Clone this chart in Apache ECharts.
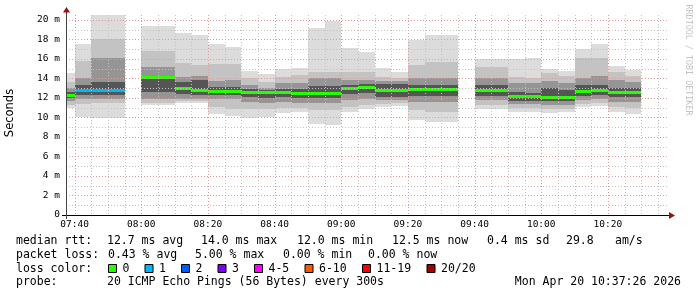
<!DOCTYPE html>
<html><head><meta charset="utf-8">
<script src="https://cdn.jsdelivr.net/npm/echarts@6/dist/echarts.min.js"></script>
<style>html,body{margin:0;padding:0;background:#fff}#c{width:697px;height:297px}</style>
</head><body><div id="c"></div>
<script>
// ---- data (5-minute steps, start time of each step; missing steps omitted) ----
const stepStart = ['07:35','07:40','07:45','07:50','08:00','08:05','08:10','08:15','08:20','08:25',
  '08:30','08:35','08:40','08:45','08:50','08:55','09:00','09:05','09:10','09:15',
  '09:20','09:25','09:30','09:40','09:45','09:50','09:55','10:00','10:05','10:10',
  '10:15','10:20','10:25'];
const rttMax    = [14.6,17.5,20.5,20.5,19.4,19.4,18.7,18.5,17.5,17.2, 14.8,14.5,15.0,15.1,19.2,19.85,17.1,16.7,15.1,14.7, 17.9,18.5,18.5,16.0,16.0,16.0,16.1,15.0,14.75,17.05, 17.5,15.3,14.85];
const rttHi2    = [13.6,15.8,18.0,18.0,16.8,16.8,15.6,15.4,15.5,15.5, 14.05,13.6,14.15,14.4,14.7,14.7,14.7,14.7,14.15,14.05, 15.35,15.7,15.7,15.2,15.2,14.15,14.0,14.6,14.3,16.1, 16.1,14.7,14.3];
const rttHi3    = [13.0,14.1,16.1,16.1,15.2,15.2,14.2,14.3,13.7,13.8, 13.3,13.0,13.5,13.5,14.0,14.0,13.8,13.8,13.7,13.7, 14.0,14.0,14.0,14.0,14.0,13.5,13.5,13.7,13.5,14.0, 14.3,13.8,13.6];
const rttHi4    = [12.6,13.3,13.6,13.6,14.3,14.3,13.6,13.8,13.1,13.1, 12.9,12.8,12.9,12.9,13.2,13.2,13.3,13.4,13.4,13.4, 13.3,13.3,13.3,13.3,13.3,12.6,12.5,13.0,12.8,13.3, 13.3,13.0,13.0];
const rttMedian = [12.3,12.75,12.8,12.8,14.05,14.05,13.0,12.8,12.7,12.7, 12.55,12.55,12.55,12.5,12.45,12.45,13.0,13.1,12.8,12.75, 12.9,12.9,12.9,12.75,12.75,12.2,12.15,12.0,12.0,12.7, 12.8,12.55,12.55];
const rttLo4    = [12.0,12.3,12.3,12.3,12.6,12.6,12.45,12.3,12.3,12.3, 12.1,11.95,12.1,12.0,12.0,12.0,12.4,12.5,12.1,12.1, 12.2,12.2,12.2,12.2,12.2,11.7,11.7,11.7,11.7,12.2, 12.3,12.1,12.1];
const rttLo3    = [11.7,11.85,11.9,11.9,11.9,11.9,11.9,11.9,11.9,11.9, 11.6,11.5,11.6,11.5,11.5,11.5,11.8,11.9,11.8,11.8, 11.6,11.6,11.6,11.8,11.8,11.4,11.4,11.3,11.3,11.8, 11.9,11.6,11.6];
const rttLo2    = [11.3,11.4,11.5,11.5,11.5,11.5,11.7,11.7,11.1,10.9, 10.9,10.9,11.0,11.0,10.8,10.8,11.1,11.3,11.4,11.5, 10.8,10.6,10.6,11.3,11.3,11.0,11.0,10.9,10.9,11.4, 11.5,11.1,11.0];
const rttMin    = [11.0,10.0,9.9,9.9,11.3,11.3,11.5,11.5,10.4,10.15, 9.95,10.1,10.5,10.6,9.3,9.2,10.6,10.85,11.1,11.2, 9.7,9.55,9.55,10.9,10.9,10.6,10.6,10.5,10.6,11.1, 11.2,10.6,10.4];
const lossCount = [0,1,1,1,0,0,0,0,0,0, 0,0,0,0,0,0,0,0,0,0, 0,0,0,0,0,0,0,0,0,0, 0,0,0];

const xTickLabels = ['07:40','08:00','08:20','08:40','09:00','09:20','09:40','10:00','10:20'];
const yTickValues = [0,2,4,6,8,10,12,14,16,18,20];
const yTickLabels = ['0','2 m','4 m','6 m','8 m','10 m','12 m','14 m','16 m','18 m','20 m'];
const lossLegendLabels = ['0','1','2','3','4-5','6-10','11-19','20/20'];
const lossLegendColors = ['#26ff00','#00b8ff','#0059ff','#7e00ff','#ff00ff','#ff5500','#ff0000','#a10000'];
const lossLegendMax = [0,1,2,3,5,10,19,20];
const viewStartText = '07:37:26', viewEndText = '10:37:26';
const stepMinutes = 5;
const yMax = 20.51;

// ---- helpers ----
const toMin = s => { const p = s.split(':').map(Number); return p[0]*60 + p[1] + (p[2]||0)/60; };
const pad = n => (n < 10 ? '0' : '') + n;
const fmtMin = v => pad(Math.floor(Math.round(v)/60)) + ':' + pad(Math.round(v)%60);
const viewStart = toMin(viewStartText), viewEnd = toMin(viewEndText);
const xTickValues = xTickLabels.map(toMin);
function lossColor(n){ for (let i=0;i<lossLegendMax.length;i++) if (n <= lossLegendMax[i]) return lossLegendColors[i]; return lossLegendColors[lossLegendColors.length-1]; }

const smokeData = stepStart.map((s,i)=>[toMin(s), toMin(s)+stepMinutes, rttMax[i], rttHi2[i], rttHi3[i], rttHi4[i], rttLo4[i], rttLo3[i], rttLo2[i], rttMin[i]]);
const medianData = stepStart.map((s,i)=>[toMin(s), toMin(s)+stepMinutes, rttMedian[i], lossCount[i]]);
const bandColors = ['#dcdcdc','#c3c3c3','#959595','#555555'];

// grid lines: [value, orient(0=vertical,1=horizontal), major]
const gridData = [];
for (let t = Math.ceil(viewStart/stepMinutes)*stepMinutes; t <= viewEnd; t += stepMinutes) {
  gridData.push([t, 0, xTickValues.some(v=>Math.abs(v-t)<1e-6) ? 1 : 0]);
}
for (let v = 1; v < yMax; v += 1) gridData.push([v, 1, yTickValues.indexOf(v) >= 0 ? 1 : 0]);

function xPix(api, cs, v){ return Math.min(cs.x+cs.width, Math.max(cs.x, Math.round(api.coord([v,0])[0]))); }

const chart = echarts.init(document.getElementById('c'), null, {renderer:'canvas'});
const monoFont = '"DejaVu Sans Mono"';

// legend row 3 layout
const legendEls = [];
let lx = 108.5;
lossLegendLabels.forEach((lab,i)=>{
  legendEls.push({type:'rect', shape:{x:lx, y:264.5, width:8, height:8}, style:{fill:lossLegendColors[i], stroke:'#000', lineWidth:1}});
  legendEls.push({type:'text', x:lx+14, y:269, style:{text:lab, font:'11.5px '+monoFont, fill:'#000', textVerticalAlign:'middle', verticalAlign:'middle'}});
  lx += 14 + 7*lab.length + 15.5;
});
function txt(x,y,s,extra){ return Object.assign({type:'text', x:x, y:y, style:Object.assign({text:s, font:'11.5px '+monoFont, fill:'#000', textVerticalAlign:'middle', verticalAlign:'middle'}, extra||{})}); }

chart.setOption({
  animation:false,
  backgroundColor:'#fff',
  grid:{left:66, right:31, top:15, bottom:82},
  xAxis:{type:'value', min:viewStart, max:viewEnd,
    axisLine:{show:false}, axisTick:{show:false}, splitLine:{show:false},
    axisLabel:{customValues:xTickValues, formatter:v=>fmtMin(v), fontFamily:'DejaVu Sans Mono', fontSize:9.5, color:'#000', margin:5}},
  yAxis:{type:'value', min:0, max:yMax,
    axisLine:{show:false}, axisTick:{show:false}, splitLine:{show:false},
    axisLabel:{customValues:yTickValues, formatter:v=>{const i=yTickValues.indexOf(v); return i>=0?yTickLabels[i]:'';}, fontFamily:'DejaVu Sans Mono', fontSize:9.5, color:'#000', margin:6}},
  series:[
    {type:'custom', name:'smoke', z:2, data:smokeData, encode:{x:[0,1], y:[2,9]},
      renderItem:(params, api)=>{
        const cs = params.coordSys;
        const x0 = xPix(api, cs, api.value(0)), x1 = xPix(api, cs, api.value(1));
        const children = [];
        for (let b=0;b<4;b++){
          const yt = Math.round(api.coord([viewStart, api.value(2+b)])[1]);
          const yb = Math.round(api.coord([viewStart, api.value(9-b)])[1]);
          children.push({type:'rect', shape:{x:x0, y:yt, width:x1-x0, height:yb-yt}, style:{fill:bandColors[b]}});
        }
        return {type:'group', children:children};
      }},
    {type:'custom', name:'median', z:3, data:medianData, encode:{x:[0,1], y:2},
      renderItem:(params, api)=>{
        const cs = params.coordSys;
        const x0 = xPix(api, cs, api.value(0)), x1 = xPix(api, cs, api.value(1));
        const yc = api.coord([viewStart, api.value(2)])[1];
        return {type:'rect', shape:{x:x0, y:Math.round(yc-1.5), width:x1-x0, height:3}, style:{fill:lossColor(api.value(3))}};
      }},
    {type:'custom', name:'grid', z:4, silent:true, data:gridData, encode:{x:0},
      renderItem:(params, api)=>{
        const cs = params.coordSys;
        const v = api.value(0), orient = api.value(1), major = api.value(2);
        const stroke = major ? '#e29a9a' : '#c2c2c2';
        let shape;
        if (orient === 0) {
          const x = Math.round(api.coord([v,0])[0]) + 0.5;
          shape = {x1:x, y1:cs.y, x2:x, y2:cs.y+cs.height};
        } else {
          const y = Math.round(api.coord([viewStart,v])[1]) + 0.5;
          shape = {x1:cs.x, y1:y, x2:cs.x+cs.width+2, y2:y};
        }
        return {type:'line', shape:shape, style:{stroke:stroke, lineWidth:1, lineDash:[1,2]}};
      }}
  ],
  graphic:[
    {type:'line', z:10, shape:{x1:62, y1:215.5, x2:670, y2:215.5}, style:{stroke:'#000', lineWidth:1}},
    {type:'line', z:10, shape:{x1:66.5, y1:219, x2:66.5, y2:12}, style:{stroke:'#444', lineWidth:1}},
    {type:'polygon', z:11, shape:{points:[[63,12.5],[70,12.5],[66.5,7]]}, style:{fill:'#9c1010'}},
    {type:'polygon', z:11, shape:{points:[[669,212],[669,219],[675,215.5]]}, style:{fill:'#9c1010'}},
    {type:'text', x:10, y:113, rotation:Math.PI/2, style:{text:'Seconds', font:'11.5px "DejaVu Sans"', fill:'#000', textAlign:'center', align:'center', textVerticalAlign:'middle', verticalAlign:'middle'}},
    {type:'text', x:688, y:60, rotation:-Math.PI/2, style:{text:'RRDTOOL / TOBI OETIKER', font:'8.4px '+monoFont, fill:'#c4c4c4', textAlign:'center', align:'center', textVerticalAlign:'middle', verticalAlign:'middle'}},
    txt(16,241,'median rtt:'), txt(107,241,'12.7 ms avg'), txt(201,241,'14.0 ms max'), txt(297,241,'12.0 ms min'),
    txt(392,241,'12.5 ms now'), txt(487,241,'0.4 ms sd'), txt(566,241,'29.8'), txt(615,241,'am/s'),
    txt(16,255,'packet loss:'), txt(108,255,'0.43 % avg'), txt(195,255,'5.00 % max'), txt(283,255,'0.00 % min'), txt(368,255,'0.00 % now'),
    txt(16,269,'loss color:'),
    ...legendEls,
    txt(16,282.5,'probe:'), txt(107,282.5,'20 ICMP Echo Pings (56 Bytes) every 300s'),
    txt(681,282.5,'Mon Apr 20 10:37:26 2026', {textAlign:'right', align:'right'})
  ]
});
</script></body></html>
